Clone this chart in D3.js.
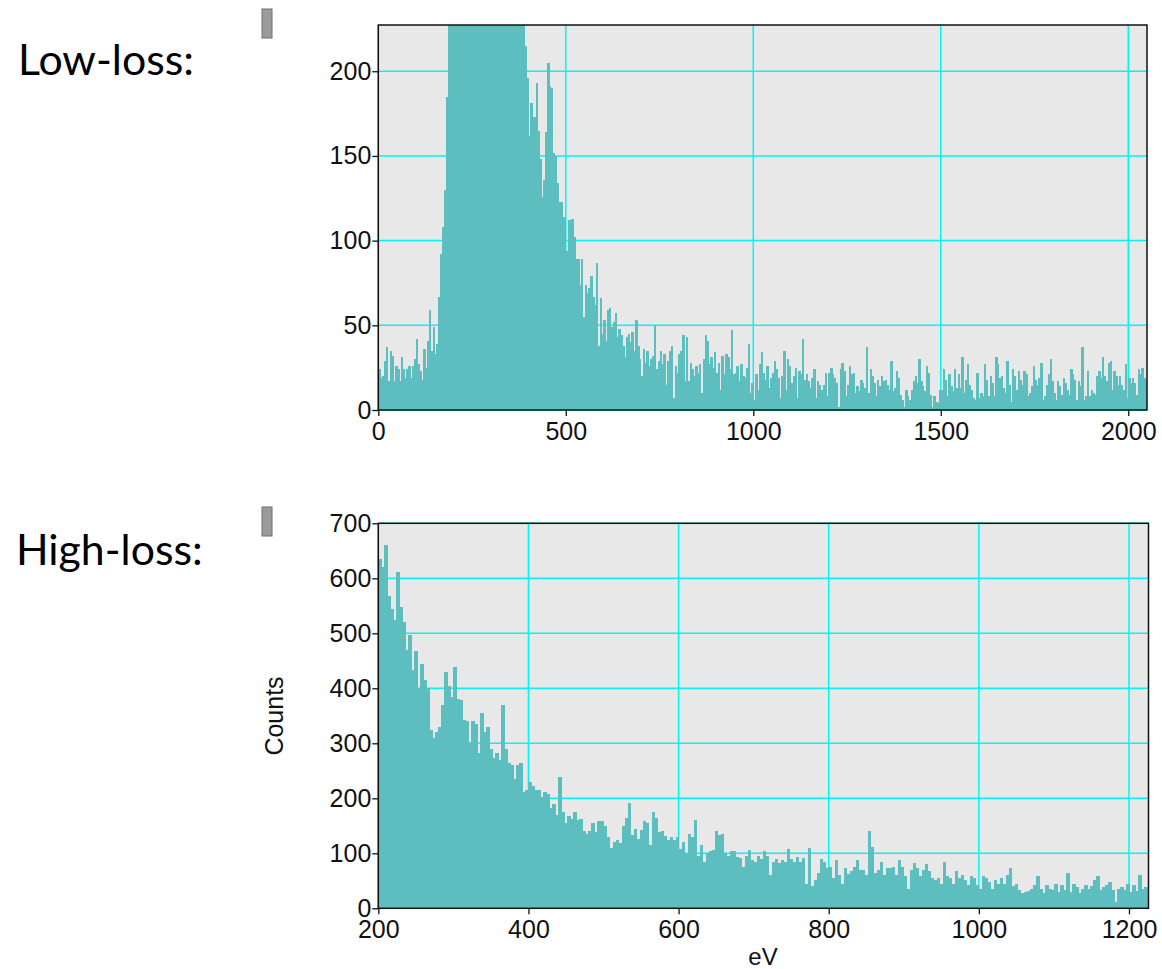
<!DOCTYPE html>
<html><head><meta charset="utf-8">
<script src="https://cdn.jsdelivr.net/npm/d3@7"></script>
<style>body{margin:0;background:#fff}svg{display:block}</style>
</head><body>
<svg id="chart" width="1162" height="969"></svg>
<script>
// ---- Low-loss spectrum: counts per 5 eV channel, starting at 0 eV ----
const lowLossStart = 0;
const lowLossStep = 5;
const lowLossCounts = [
  24,19,20,29,37,17,35,32,17,26,24,17,31,24,19,24,26,19,26,30,   // 0-95
  42,27,23,18,36,25,41,59,35,49,33,39,67,92,108,130,185,240,260,290, // 100-195
  320,350,380,400,420,440,455,470,480,490,495,500,505,500,495,490,480,470,460,450, // 200-295
  440,430,415,400,385,370,355,340,325,310,295,280,270,260,250,245,240,232,215,196, // 300-395
  162,181,173,173,193,165,148,126,136,164,205,191,190,152,150,134,123,123,114,112, // 400-495
  94,112,112,113,102,89,89,74,89,55,74,69,72,79,67,62,87,38,66,45,   // 500-595
  53,41,59,60,49,52,57,43,48,44,38,31,43,45,40,46,35,53,38,30,       // 600-695
  20,36,28,35,26,30,32,50,24,29,35,27,33,15,29,35,38,7,26,22,        // 700-795
  33,35,44,17,43,17,28,24,20,26,22,27,10,30,44,41,27,31,25,34,       // 800-895
  22,28,12,32,21,33,31,24,47,21,22,26,17,27,20,19,25,39,10,16,       // 900-995
  6,21,12,27,34,22,18,26,13,19,22,29,24,19,7,20,35,12,30,26,         // 1000-1095
  16,20,25,7,23,21,42,18,21,17,13,19,24,7,17,15,12,15,22,8,          // 1100-1195
  22,25,21,19,16,2,24,28,23,8,15,26,21,22,10,14,11,18,16,13,         // 1200-1295
  37,10,24,20,16,8,18,14,20,17,18,15,12,29,11,13,23,19,9,6,          // 1300-1395
  2,12,8,6,12,17,20,16,30,17,14,11,26,22,9,2,8,5,4,12,               // 1400-1495
  12,24,18,8,21,14,11,24,13,21,13,31,10,18,27,15,12,7,6,22,          // 1500-1595
  7,10,8,27,18,8,20,16,8,31,27,19,20,13,10,29,15,5,24,20,            // 1600-1695
  12,23,18,15,23,21,8,10,14,26,18,15,19,28,6,8,15,21,30,17,          // 1700-1795
  10,6,17,14,9,19,16,12,9,24,21,18,6,17,14,37,6,8,23,8,              // 1800-1895
  12,10,9,20,23,19,31,20,17,28,29,12,23,20,15,20,15,12,27,7,         // 1900-1995
  19,16,19,16,9,24,21,25,19,17                                       // 2000-2045
];

// ---- High-loss spectrum: counts per 4 eV channel, starting at 200 eV ----
const highLossStart = 200;
const highLossStep = 4;
const highLossCounts = [
  636,620,660,567,545,524,612,548,520,470,497,433,467,400,445,415,
  400,324,309,321,330,370,430,405,385,439,380,379,342,340,303,340,
  335,282,355,320,330,290,273,282,270,370,290,264,261,235,260,265,
  212,215,230,222,215,215,203,212,207,182,190,170,239,176,155,167,
  162,176,160,162,140,136,140,155,138,158,158,150,130,110,120,124,
  118,150,165,191,133,145,126,142,158,155,115,176,165,139,140,132,
  124,130,124,130,108,120,98,135,130,160,95,115,85,100,105,106,
  140,133,136,100,95,105,105,94,92,75,95,106,88,84,96,90,
  104,95,61,85,90,82,88,85,107,90,85,94,85,91,45,110,
  40,52,64,89,85,73,76,55,88,60,45,73,62,67,76,88,
  70,70,61,141,112,64,70,85,61,73,73,76,61,88,76,58,
  36,70,82,73,58,70,80,67,55,52,55,45,85,58,55,45,
  68,55,61,52,42,58,55,42,36,58,55,48,36,52,45,55,
  45,61,73,40,45,33,27,30,32,36,42,58,36,27,42,35,
  33,45,30,42,33,64,30,45,39,27,36,42,36,40,52,58,
  33,38,42,48,33,12,35,39,33,45,30,42,31,61,36,39
];

// ---- axis ticks and labels ----
const lowLossXTicks = [0, 500, 1000, 1500, 2000];
const lowLossYTicks = [0, 50, 100, 150, 200];
const highLossXTicks = [200, 400, 600, 800, 1000, 1200];
const highLossYTicks = [0, 100, 200, 300, 400, 500, 600, 700];
const panelTitles = ["Low-loss:", "High-loss:"];
const xAxisTitle = "eV";
const yAxisTitle = "Counts";

const svg = d3.select("#chart");
const barColor = "#5cbebe";
const gridColor = "#00f6f6";
const tickFont = "Liberation Sans, Arial, sans-serif";

function drawPanel(cfg, id) {
  const x = d3.scaleLinear().domain(cfg.xDomain).range([cfg.left, cfg.right]);
  const y = d3.scaleLinear().domain(cfg.yDomain).range([cfg.bottom, cfg.top]).clamp(true);
  const g = svg.append("g");

  g.append("rect").attr("x", cfg.left).attr("y", cfg.top)
    .attr("width", cfg.right - cfg.left).attr("height", cfg.bottom - cfg.top)
    .attr("fill", "#e8e8e8");

  // grid
  g.append("g").selectAll("line").data(cfg.xTicks).join("line")
    .attr("x1", d => x(d)).attr("x2", d => x(d))
    .attr("y1", cfg.top).attr("y2", cfg.bottom)
    .attr("stroke", gridColor).attr("stroke-width", 1.5);
  g.append("g").selectAll("line").data(cfg.yTicks).join("line")
    .attr("x1", cfg.left).attr("x2", cfg.right)
    .attr("y1", d => y(d)).attr("y2", d => y(d))
    .attr("stroke", gridColor).attr("stroke-width", 1.5);

  // bars
  svg.append("clipPath").attr("id", "clip" + id).append("rect")
    .attr("x", cfg.left).attr("y", cfg.top)
    .attr("width", cfg.right - cfg.left).attr("height", cfg.bottom - cfg.top);
  const bins = cfg.counts.map((v, i) => ({ e0: cfg.start + i * cfg.step, v }));
  g.append("g").attr("clip-path", `url(#clip${id})`).attr("shape-rendering", "crispEdges")
    .selectAll("rect").data(bins).join("rect")
    .attr("x", d => x(d.e0))
    .attr("width", d => x(d.e0 + cfg.step) - x(d.e0) + 0.6)
    .attr("y", d => y(d.v))
    .attr("height", d => cfg.bottom - y(d.v))
    .attr("fill", barColor);

  // frame
  g.append("rect").attr("x", cfg.left).attr("y", cfg.top)
    .attr("width", cfg.right - cfg.left).attr("height", cfg.bottom - cfg.top)
    .attr("fill", "none").attr("stroke", "#111").attr("stroke-width", 1.5);

  // axes
  const ax = g.append("g").attr("transform", `translate(0,${cfg.bottom})`)
    .call(d3.axisBottom(x).tickValues(cfg.xTicks).tickSize(6).tickPadding(6).tickFormat(d3.format("d")));
  const ay = g.append("g").attr("transform", `translate(${cfg.left},0)`)
    .call(d3.axisLeft(y).tickValues(cfg.yTicks).tickSize(6).tickPadding(1).tickFormat(d3.format("d")));
  [ax, ay].forEach(a => {
    a.select(".domain").remove();
    a.selectAll("line").attr("stroke", "#111").attr("stroke-width", 1.3);
    a.selectAll("text").attr("font-family", tickFont).attr("font-size", 25).attr("fill", "#111");
  });

  // small gray marker
  g.append("rect").attr("x", 262).attr("y", cfg.markerY).attr("width", 10).attr("height", 29)
    .attr("fill", "#9b9b9b").attr("stroke", "#6f6f6f").attr("stroke-width", 1);

  return { x, y };
}

drawPanel({
  left: 378.3, right: 1147, top: 25, bottom: 410,
  xDomain: [0, 2050], yDomain: [0, 227.3],
  xTicks: lowLossXTicks, yTicks: lowLossYTicks,
  counts: lowLossCounts, start: lowLossStart, step: lowLossStep, markerY: 9
}, 0);

drawPanel({
  left: 378.3, right: 1148.5, top: 523.3, bottom: 908.3,
  xDomain: [200, 1226], yDomain: [0, 700],
  xTicks: highLossXTicks, yTicks: highLossYTicks,
  counts: highLossCounts, start: highLossStart, step: highLossStep, markerY: 507
}, 1);

// axis titles
svg.append("text").attr("x", 763).attr("y", 965).attr("text-anchor", "middle")
  .attr("font-family", tickFont).attr("font-size", 24).attr("fill", "#111").text(xAxisTitle);
svg.append("text").attr("transform", "translate(283,716) rotate(-90)").attr("text-anchor", "middle")
  .attr("font-family", tickFont).attr("font-size", 25).attr("fill", "#111").text(yAxisTitle);

// panel titles (fit to reference width)
const t1 = svg.append("text").attr("x", 18).attr("y", 75).attr("font-family", "Lato, Carlito, sans-serif")
  .attr("font-size", 48).attr("fill", "#000").text(panelTitles[0]);
const w = t1.node().getComputedTextLength();
const fs = 48 * 176 / w;
t1.attr("font-size", fs);
svg.append("text").attr("x", 16).attr("y", 565).attr("font-family", "Lato, Carlito, sans-serif")
  .attr("font-size", fs).attr("fill", "#000").text(panelTitles[1]);
</script>
</body></html>
